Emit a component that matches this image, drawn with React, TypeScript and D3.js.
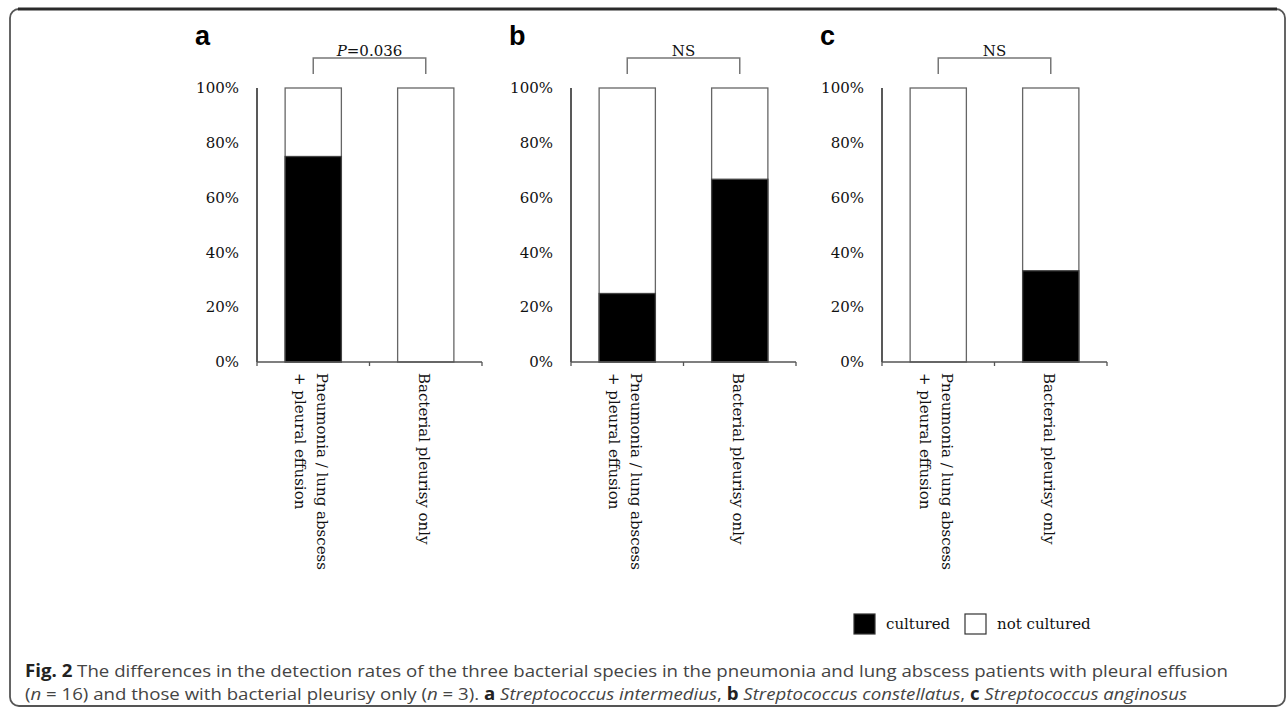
import React from 'react';
import * as d3 from 'd3';

// chart data
const panelLetters = ['a', 'b', 'c'];
const categoryLines = [
  ['Pneumonia / lung abscess', '+ pleural effusion'],
  ['Bacterial pleurisy only'],
];
const culturedA = [75, 0];
const culturedB = [25, 66.7];
const culturedC = [0, 33.3];
const significance = ['P=0.036', 'NS', 'NS'];
const yTicks = [0, 20, 40, 60, 80, 100];
const legendItems = ['cultured', 'not cultured'];

const W = 1287;
const H = 707;
const SERIF = '"DejaVu Serif", serif';
const SANS = '"Open Sans", "Noto Sans", sans-serif';

const panelLeft = [257, 571, 882];
const axisWidth = 225;
const y = d3.scaleLinear().domain([0, 100]).range([362, 88]);

const Panel: React.FC<{ idx: number; values: number[] }> = ({ idx, values }) => {
  const x0 = panelLeft[idx];
  const x = d3
    .scaleBand<number>()
    .domain(values.map((_, i) => i))
    .range([x0, x0 + axisWidth])
    .paddingInner(0.5)
    .paddingOuter(0.25);
  const bw = x.bandwidth();
  const centers = values.map((_, i) => (x(i) as number) + bw / 2);
  const bracketY = 58;
  const sig = significance[idx];

  return (
    <g>
      {/* panel letter */}
      <text
        x={x0 - 62}
        y={45}
        fontFamily='"Liberation Sans", Arial, sans-serif'
        fontWeight="bold"
        fontSize={27}
        fill="#000"
      >
        {panelLetters[idx]}
      </text>

      {/* significance bracket */}
      <path
        d={`M${centers[0]},${bracketY + 16}V${bracketY}H${centers[1]}V${bracketY + 16}`}
        fill="none"
        stroke="#777"
        strokeWidth={1.5}
      />
      <text
        x={(centers[0] + centers[1]) / 2}
        y={bracketY - 2}
        textAnchor="middle"
        fontFamily={SERIF}
        fontSize={15}
        fill="#111"
      >
        {sig.startsWith('P') ? (
          <>
            <tspan fontStyle="italic">P</tspan>
            {sig.slice(1)}
          </>
        ) : (
          sig
        )}
      </text>

      {/* y axis */}
      <line x1={x0} x2={x0} y1={y(100)} y2={y(0)} stroke="#222" strokeWidth={1.5} />
      {yTicks.map((t) => (
        <text
          key={t}
          x={x0 - 18}
          y={y(t)}
          dy="0.35em"
          textAnchor="end"
          fontFamily={SERIF}
          fontSize={15}
          fill="#111"
        >
          {t}%
        </text>
      ))}

      {/* bars: white (not cultured) full, black (cultured) share */}
      {values.map((v, i) => (
        <g key={i}>
          <rect
            x={x(i)}
            y={y(100)}
            width={bw}
            height={y(0) - y(100)}
            fill="#fff"
            stroke="#666"
            strokeWidth={1.3}
          />
          {v > 0 && (
            <rect
              x={x(i)}
              y={y(v)}
              width={bw}
              height={y(0) - y(v)}
              fill="#000"
              stroke="#444"
              strokeWidth={1.3}
            />
          )}
        </g>
      ))}

      {/* x axis */}
      <line x1={x0} x2={x0 + axisWidth} y1={y(0)} y2={y(0)} stroke="#555" strokeWidth={1.5} />
      {[0, 1, 2].map((k) => (
        <line
          key={k}
          x1={x0 + (k * axisWidth) / 2}
          x2={x0 + (k * axisWidth) / 2}
          y1={y(0)}
          y2={y(0) + 4}
          stroke="#555"
          strokeWidth={1.3}
        />
      ))}

      {/* rotated category labels */}
      {categoryLines.map((lines, i) => {
        const cx = centers[i] + 1;
        const first = lines.length === 1 ? 8 : -3;
        return (
          <text
            key={i}
            transform={`translate(${cx},373) rotate(90)`}
            fontFamily={SERIF}
            fontSize={15}
            fill="#111"
          >
            {lines.map((ln, j) => (
              <tspan key={j} x={0} y={first + j * 22}>
                {ln}
              </tspan>
            ))}
          </text>
        );
      })}
    </g>
  );
};

const App: React.FC = () => {
  const series = [culturedA, culturedB, culturedC];
  const legendX = [854, 965];
  return (
    <svg
      width={W}
      height={H}
      style={{ position: 'fixed', left: 0, top: 0, background: '#fff' }}
    >
      <rect x={0} y={0} width={W} height={H} fill="#fff" />
      {/* frame */}
      <rect x={10} y={9} width={1275} height={697} rx={9} fill="none" stroke="#555" strokeWidth={1.8} />
      <line x1={18} x2={1277} y1={9} y2={9} stroke="#2a2a2a" strokeWidth={3} />

      {series.map((vals, i) => (
        <Panel key={i} idx={i} values={vals} />
      ))}

      {/* legend */}
      {legendItems.map((name, i) => (
        <g key={name}>
          <rect
            x={legendX[i]}
            y={614}
            width={21}
            height={20}
            fill={i === 0 ? '#000' : '#fff'}
            stroke="#333"
            strokeWidth={1.2}
          />
          <text x={legendX[i] + 32} y={629} fontFamily={SERIF} fontSize={15} fill="#111">
            {name}
          </text>
        </g>
      ))}

      {/* caption */}
      <text
        x={25}
        y={677}
        fontFamily={SANS}
        fontSize={17}
        fill="#444"
        textLength={1203}
        lengthAdjust="spacingAndGlyphs"
      >
        <tspan fontWeight="bold" fill="#222">Fig. 2</tspan>
        {' The differences in the detection rates of the three bacterial species in the pneumonia and lung abscess patients with pleural effusion'}
      </text>
      <text
        x={25}
        y={700}
        fontFamily={SANS}
        fontSize={17}
        fill="#444"
        textLength={1162}
        lengthAdjust="spacingAndGlyphs"
      >
        (<tspan fontStyle="italic">n</tspan>
        {' = 16) and those with bacterial pleurisy only ('}
        <tspan fontStyle="italic">n</tspan>
        {' = 3). '}
        <tspan fontWeight="bold" fill="#222">a</tspan>{' '}
        <tspan fontStyle="italic">Streptococcus intermedius</tspan>
        {', '}
        <tspan fontWeight="bold" fill="#222">b</tspan>{' '}
        <tspan fontStyle="italic">Streptococcus constellatus</tspan>
        {', '}
        <tspan fontWeight="bold" fill="#222">c</tspan>{' '}
        <tspan fontStyle="italic">Streptococcus anginosus</tspan>
      </text>
    </svg>
  );
};

export default App;
